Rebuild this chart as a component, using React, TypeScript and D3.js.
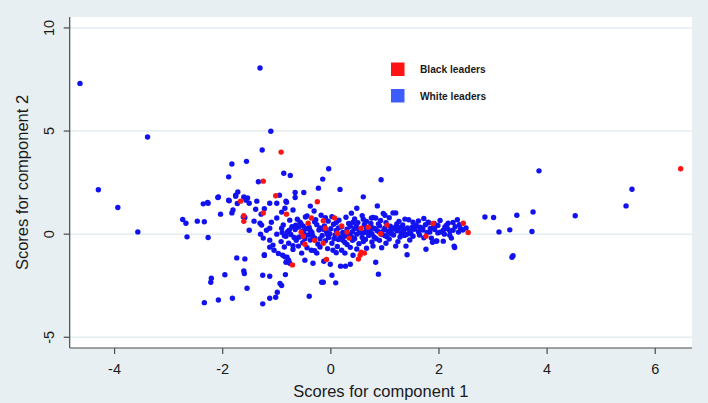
import * as d3 from "d3";
import { useMemo } from "react";

// component scores, [component 1, component 2]
const whiteLeaders: [number, number][] = [
  [-4.64, 7.31], [-3.39, 4.71], [-4.3, 2.15], [-3.94, 1.29], [-3.57, 0.11],
  [-2.74, 0.71], [-2.68, 0.53], [-2.47, 0.63], [-2.34, 0.6], [-2.66, -0.13], [-2.27, -0.16],
  [-2.36, 1.47], [-2.27, 1.5], [-2.04, 0.97], [-1.83, 1.03], [-1.89, 1.65], [-1.73, 1.49],
  [-1.74, -1.15], [-1.96, -1.97], [-2.21, -2.14], [-2.22, -2.33], [-2.34, -3.32], [-2.08, -3.19], [-1.82, -3.11],
  [-1.31, 8.06], [-1.11, 4.99], [-1.27, 4.08], [-1.83, 3.4], [-1.56, 3.53], [-1.89, 2.78], [-0.87, 2.95],
  [-0.75, 2.85], [-0.04, 3.17], [0.93, 2.64], [-1.34, 2.54], [-0.15, 2.67], [-0.23, 2.23], [0.17, 2.17],
  [-0.66, 2.02], [-0.5, 2.02], [0.6, 1.81], [-0.95, 1.89], [-1.72, 2.05], [-1.76, 1.89], [-2.08, 1.8],
  [3.85, 3.07], [5.57, 2.18], [5.46, 1.37], [2.85, 0.83], [3.01, 0.81], [3.44, 0.92], [3.74, 1.08],
  [4.52, 0.89], [3.11, 0.11], [3.31, 0.21], [3.72, 0.13], [3.37, -1.05], [3.35, -1.12],
  [2.11, 0.35], [2.26, 0.57], [2.26, 0.19], [2.08, 0.19], [2.2, -0.05], [1.96, -0.33], [2.08, -0.34],
  [2.29, -0.65], [2.4, 0.26], [2.36, 0.1], [1.86, -0.19], [1.88, -0.39], [2.23, -0.19], [1.83, 0.1],
  [2.28, -0.58], [1.94, -0.34], [1.91, 0.52], [2.17, 0.53], [1.81, 0.55],
  [-1.26, -3.38], [-1.13, -3.11], [-1.55, -2.62], [-1.59, -1.2], [-1.61, -1.78], [-1.6, -1.91],
  [-1.26, -1.99], [-1.13, -2.04], [-1.23, -1.03], [-0.84, -1.96], [-0.94, -2.39], [-0.91, -2.49],
  [-0.99, -2.82], [-1.02, -3.06],
  [-0.97, -0.94], [-0.89, -1.02], [-0.81, -1.12], [-0.78, -1.26], [-0.83, -1.36], [-0.76, -1.41],
  [-1.13, -0.63], [-1.05, -0.78], [-1.23, -1.0], [-0.85, -1.1], [-1.07, -0.53],
  [-1.76, 1.84], [-1.61, 1.8], [-1.57, 1.65], [-1.54, 1.75], [-1.51, 1.5], [-1.37, 1.6], [-1.88, 1.62],
  [-2.09, 1.78], [-2.28, 1.54], [-1.39, 1.21], [-1.29, 0.97], [-1.23, 1.23], [-1.13, 1.5], [-1.0, 1.5],
  [-0.83, 1.6], [-0.66, 1.78], [-1.59, 0.81], [-1.51, 0.19], [-1.42, 0.63], [-1.31, 0.53], [-1.13, 0.29],
  [-1.3, 0.0], [-1.25, -0.19], [-1.19, 0.19], [-1.1, 0.58], [-1.0, 0.78], [-0.91, 1.07], [-0.85, 1.26],
  [-0.76, 0.68], [-0.91, 0.29], [-1.0, 0.0], [-0.83, -0.1], [-0.77, 0.19], [-0.65, 0.44], [-0.7, 1.17],
  [-0.82, 1.55], [-0.63, -0.19], [-1.81, 1.17], [-1.62, 0.84], [-1.28, 0.44], [-1.13, -0.29],
  [-0.38, 1.36], [0.48, 1.26], [0.86, 1.37], [-0.31, 1.12], [-0.47, 0.83], [0.38, 1.02], [0.97, 1.0],
  [1.2, 1.03], [0.75, 0.78], [0.83, 0.78], [1.37, 0.73], [0.41, 0.58], [-0.05, 0.63], [-0.57, 0.58],
  [-0.51, 0.39], [1.8, 0.58], [1.65, 0.34], [1.52, 0.58], [1.51, 0.35], [1.22, 0.49], [1.15, 1.03],
  [1.0, 0.92], [0.78, 0.81],
  [-0.4, -3.01], [-0.17, -2.33], [-0.14, -2.33], [0.09, -2.36], [0.02, -1.99], [0.88, -1.94],
  [0.83, -1.36], [0.18, -1.55], [0.27, -1.55], [0.36, -1.46], [-0.01, -1.46], [-0.33, -1.41],
  [-0.48, -1.26], [-0.13, -1.31], [0.41, -1.02], [1.41, -1.0], [1.76, -0.73], [1.39, -0.58],
  [1.2, -0.58], [1.02, -0.44], [-0.26, -0.92], [-0.54, -0.92], [-0.36, -0.78], [0.04, -0.78],
  [0.26, -0.92], [0.66, -0.68],
  [-0.62, 0.72], [-0.44, 0.88], [-0.28, 0.7], [-0.18, 0.92], [0.02, 0.85], [0.15, 0.68], [0.28, 0.82],
  [0.44, 0.74], [0.58, 0.9], [0.66, 0.62], [0.92, 0.66], [1.08, 0.8], [1.26, 0.62], [1.44, 0.7],
  [1.62, 0.64], [1.72, 0.76], [2.02, 0.66], [2.34, 0.7],
  [-0.88, 0.45], [-0.72, 0.36], [-0.55, 0.5], [-0.4, 0.32], [-0.26, 0.46], [-0.12, 0.4], [0.05, 0.48],
  [0.2, 0.36], [0.33, 0.52], [0.47, 0.4], [0.62, 0.47], [0.78, 0.3], [0.88, 0.5], [1.1, 0.38],
  [1.18, 0.28], [1.33, 0.45], [1.42, 0.3], [1.58, 0.42], [1.7, 0.3], [1.75, 0.46], [1.98, 0.42],
  [2.14, 0.44], [2.3, 0.36],
  [-0.8, 0.12], [-0.66, 0.22], [-0.52, 0.15], [-0.45, 0.26], [-0.35, 0.08], [-0.22, 0.2], [-0.08, 0.12],
  [0.0, 0.26], [0.1, 0.18], [0.22, 0.08], [0.3, 0.24], [0.4, 0.12], [0.52, 0.2], [0.62, 0.08],
  [0.72, 0.18], [0.82, 0.26], [0.9, 0.1], [0.98, 0.2], [1.06, 0.12], [1.14, 0.24], [1.22, 0.16],
  [1.3, 0.06], [1.36, 0.22], [1.46, 0.14], [1.54, 0.24], [1.62, 0.12], [1.7, 0.2], [1.78, 0.08],
  [1.92, 0.22], [2.02, 0.1], [2.16, 0.26], [2.44, 0.2],
  [-0.86, -0.08], [-0.74, -0.02], [-0.58, -0.14], [-0.42, -0.04], [-0.3, -0.18], [-0.16, -0.06],
  [-0.04, -0.16], [0.08, -0.04], [0.18, -0.14], [0.28, -0.02], [0.38, -0.12], [0.48, 0.0],
  [0.58, -0.16], [0.7, -0.06], [0.8, -0.14], [0.94, -0.02], [1.04, -0.12], [1.16, -0.04],
  [1.28, -0.14], [1.4, -0.02], [1.52, -0.1], [1.64, -0.04], [1.72, -0.18],
  [-0.92, -0.36], [-0.78, -0.44], [-0.64, -0.3], [-0.52, -0.42], [-0.38, -0.28], [-0.24, -0.48],
  [-0.1, -0.32], [0.02, -0.44], [0.14, -0.26], [0.26, -0.4], [0.4, -0.3], [0.52, -0.46],
  [0.64, -0.26], [0.76, -0.38], [0.9, -0.3], [1.08, -0.24], [1.24, -0.36], [1.46, -0.28],
  [-0.86, -0.62], [-0.7, -0.74], [-0.6, -0.58], [-0.44, -0.66], [-0.2, -0.62], [-0.06, -0.7],
  [0.12, -0.6], [0.2, -0.78], [0.36, -0.64], [0.48, -0.72], [0.78, -0.58], [0.94, -0.66],
  [-0.5, 0.05], [-0.38, 0.18], [-0.2, 0.3], [-0.02, 0.02], [0.14, 0.3], [0.26, -0.1], [0.44, 0.28],
  [0.56, 0.06], [0.66, 0.3], [0.76, 0.02], [0.86, 0.16], [1.0, 0.3], [1.12, 0.02], [1.2, 0.36],
  [1.34, 0.12], [1.48, 0.02], [1.56, 0.32], [1.66, 0.22], [1.84, 0.28], [1.98, 0.06], [2.1, 0.0],
  [-0.68, -0.16], [-0.48, -0.22], [-0.34, -0.06], [-0.2, -0.22], [-0.06, -0.02], [0.06, -0.22],
  [0.22, -0.3], [0.34, 0.0], [0.44, -0.22], [0.6, -0.36], [0.68, 0.14], [0.84, -0.22], [1.0, -0.08],
  [1.1, 0.18], [1.26, 0.28], [1.36, -0.06], [-0.6, 0.34], [-0.3, 0.6], [0.1, 0.56], [0.5, 0.56],
  [0.74, 0.52], [1.02, 0.56], [1.3, 0.34], [-0.14, 0.24], [0.36, 0.38], [0.9, 0.4], [-0.9, 0.08],
  [-0.7, -0.56], [-0.3, -0.8], [0.1, -0.9], [0.3, -0.5], [0.6, 0.72], [-0.1, 0.8], [1.9, 0.34],
  [2.2, 0.16], [2.5, 0.3], [2.38, 0.46],
];

const blackLeaders: [number, number][] = [
  [-0.92, 3.98], [-1.25, 2.57], [-1.02, 1.86], [-1.67, 1.6], [-1.25, 1.03], [-1.61, 0.62],
  [-0.82, 0.97], [-0.25, 1.57], [0.07, 0.79], [1.04, 0.44], [-0.36, 0.78], [-0.14, 0.65],
  [-0.1, 0.29], [-0.42, 0.53], [0.12, 0.05], [0.56, 0.29], [0.69, 0.34], [0.54, -1.02],
  [0.56, -0.87], [0.51, -1.21], [-0.08, -1.23], [-0.48, -0.49], [-0.51, -0.1], [-0.14, -0.44],
  [0.34, -0.19], [1.76, -0.1], [-0.71, -1.49], [1.89, 0.52], [2.45, 0.53], [2.54, 0.08],
  [6.47, 3.17], [-1.61, 0.89], [0.3, 0.1], [0.92, 0.02], [-0.3, -0.3], [0.62, -0.92],
  [-0.55, 0.1], [0.2, 0.4],
];

const xTicks = [-4, -2, 0, 2, 4, 6];
const yTicks = [-5, 0, 5, 10];
const legendLabels = ["Black leaders", "White leaders"];

export default function App() {
  const width = 708;
  const height = 403;
  const font = "'Liberation Sans', Arial, Helvetica, sans-serif";
  const blue = "#1212f0";
  const red = "#ff1414";

  const xScale = useMemo(
    () => d3.scaleLinear().domain([-4.83, 6.68]).range([69.7, 692]),
    []
  );
  const yScale = useMemo(
    () => d3.scaleLinear().domain([-5.52, 10.53]).range([348, 17]),
    []
  );

  const [x0, x1] = xScale.range();
  const [y0, y1] = yScale.range();

  return (
    <svg
      width={width}
      height={height}
      style={{ position: "absolute", left: 0, top: 0, fontFamily: font }}
    >
      <rect width={width} height={height} fill="#e8eff2" />
      <rect x={x0} y={y1} width={x1 - x0} height={y0 - y1} fill="#ffffff" />

      {yTicks.map((t) => (
        <line
          key={"g" + t}
          x1={x0}
          x2={x1}
          y1={yScale(t)}
          y2={yScale(t)}
          stroke="#e2edf1"
          strokeWidth={1.5}
        />
      ))}

      {whiteLeaders.map((d, i) => (
        <circle key={"w" + i} cx={xScale(d[0])} cy={yScale(d[1])} r={2.7} fill={blue} />
      ))}
      {blackLeaders.map((d, i) => (
        <circle key={"b" + i} cx={xScale(d[0])} cy={yScale(d[1])} r={2.7} fill={red} />
      ))}

      {/* axes */}
      <line x1={x0} x2={x0} y1={y1} y2={y0} stroke="#4a4a4a" strokeWidth={1.2} />
      <line x1={x0} x2={x1} y1={y0} y2={y0} stroke="#4a4a4a" strokeWidth={1.2} />

      {yTicks.map((t) => (
        <g key={"yt" + t}>
          <line x1={x0 - 6} x2={x0} y1={yScale(t)} y2={yScale(t)} stroke="#4a4a4a" strokeWidth={1.2} />
          <text
            transform={`translate(54, ${yScale(t)}) rotate(-90)`}
            textAnchor="middle"
            fontSize={14.5}
            fill="#1a1a1a"
          >
            {t}
          </text>
        </g>
      ))}

      {xTicks.map((t) => (
        <g key={"xt" + t}>
          <line x1={xScale(t)} x2={xScale(t)} y1={y0} y2={y0 + 6} stroke="#4a4a4a" strokeWidth={1.2} />
          <text x={xScale(t)} y={373.5} textAnchor="middle" fontSize={14.5} fill="#1a1a1a">
            {t}
          </text>
        </g>
      ))}

      <text x={(x0 + x1) / 2} y={397} textAnchor="middle" fontSize={16.5} fill="#1a1a1a">
        Scores for component 1
      </text>
      <text
        transform={`translate(28, ${(y0 + y1) / 2}) rotate(-90)`}
        textAnchor="middle"
        fontSize={16.5}
        fill="#1a1a1a"
      >
        Scores for component 2
      </text>

      {/* legend */}
      {legendLabels.map((label, i) => (
        <g key={label} transform={`translate(391, ${62.5 + i * 26.5})`}>
          <rect width={13.5} height={13.5} fill={i === 0 ? red : "#3d5cff"} />
          <text x={29} y={10.8} fontSize={10.2} fontWeight="bold" fill="#1a1a1a">
            {label}
          </text>
        </g>
      ))}
    </svg>
  );
}
